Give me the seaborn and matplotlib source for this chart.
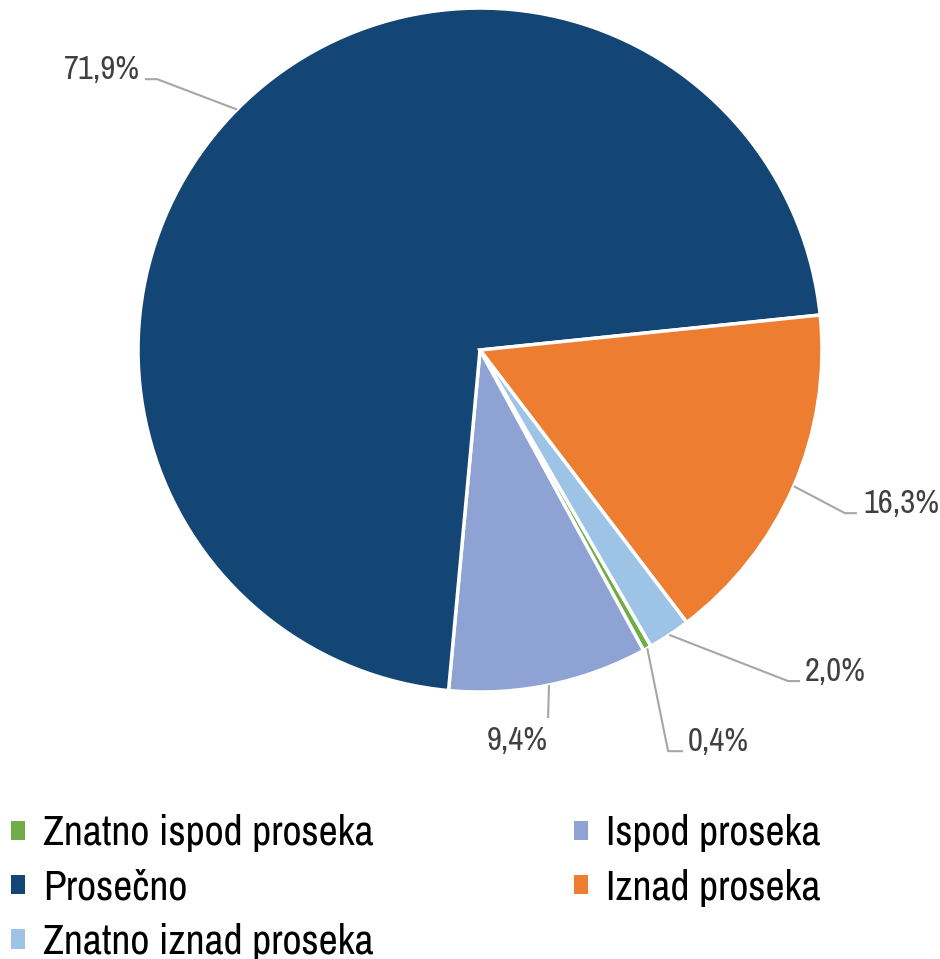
import matplotlib
matplotlib.use("Agg")
import matplotlib.pyplot as plt
from matplotlib import font_manager
from matplotlib.patches import Patch
import numpy as np
import seaborn as sns

# data, in the order the slices are drawn (clockwise)
categories = ["Znatno ispod proseka", "Ispod proseka", "Prosečno",
              "Iznad proseka", "Znatno iznad proseka"]
shares = [0.4, 9.4, 71.9, 16.3, 2.0]
labels = ["0,4%", "9,4%", "71,9%", "16,3%", "2,0%"]
colors = ["#70AD47", "#8FA2D4", "#134674", "#ED7D31", "#9DC3E6"]

sns.set_style("white")
# the original uses a narrow face; use one if there is any, else shrink
narrow = [f.name for f in font_manager.fontManager.ttflist
          if "Narrow" in f.name or "Condensed" in f.name]
if narrow:
    FONT, LAB_FS, LEG_FS = narrow[0], 23.5, 30
else:
    FONT, LAB_FS, LEG_FS = "Liberation Sans", 20, 26
plt.rcParams["font.family"] = [FONT, "DejaVu Sans"]
leg_px = LEG_FS * 100 / 72

fig = plt.figure(figsize=(9.4, 9.59), dpi=100)
ax = fig.add_axes([0.1468, 0.2784, 0.7277, 0.7132])

wedges, _ = ax.pie(shares, colors=colors, startangle=-60, counterclock=False,
                   radius=1, wedgeprops=dict(edgecolor="white", linewidth=2.5))
ax.set_xlim(-1, 1)
ax.set_ylim(-1, 1)

# label layout: (elbow, line end, text x, text y, ha)
layout = {
    "0,4%": ((0.550, -1.173), (0.594, -1.173), 0.608, -1.173, "left"),
    "9,4%": ((0.199, -1.076), (0.199, -1.076), 0.199, -1.170, "right"),
    "71,9%": ((-0.944, 0.792), (-0.980, 0.792), -0.994, 0.792, "right"),
    "16,3%": ((1.067, -0.477), (1.102, -0.477), 1.120, -0.477, "left"),
    "2,0%": ((0.901, -0.968), (0.936, -0.968), 0.950, -0.968, "left"),
}

for w, lab in zip(wedges, labels):
    ang = np.deg2rad((w.theta1 + w.theta2) / 2)
    anchor = (np.cos(ang), np.sin(ang))
    elbow, end, tx, ty, ha = layout[lab]
    ax.plot([anchor[0], elbow[0], end[0]], [anchor[1], elbow[1], end[1]],
            color="#A6A6A6", linewidth=1.5, clip_on=False,
            solid_capstyle="butt")
    ax.text(tx, ty, lab, ha=ha, va="baseline", fontsize=LAB_FS, color="#404040")

# legend: row-major in the picture, matplotlib fills columns first
order = [0, 2, 4, 1, 3]
handles = [Patch(facecolor=colors[i], edgecolor="none", label=categories[i])
           for i in order]
fig.legend(handles=handles, loc="upper left", bbox_to_anchor=(0.012, 0.151),
           ncol=2, frameon=False, fontsize=LEG_FS, handlelength=14 / leg_px,
           handleheight=14 / leg_px, handletextpad=18 / leg_px,
           columnspacing=200 / leg_px, labelspacing=(57 - 0.976 * leg_px) / leg_px,
           borderaxespad=0, borderpad=0, labelcolor="black")

fig.savefig("out.png", dpi=100)
